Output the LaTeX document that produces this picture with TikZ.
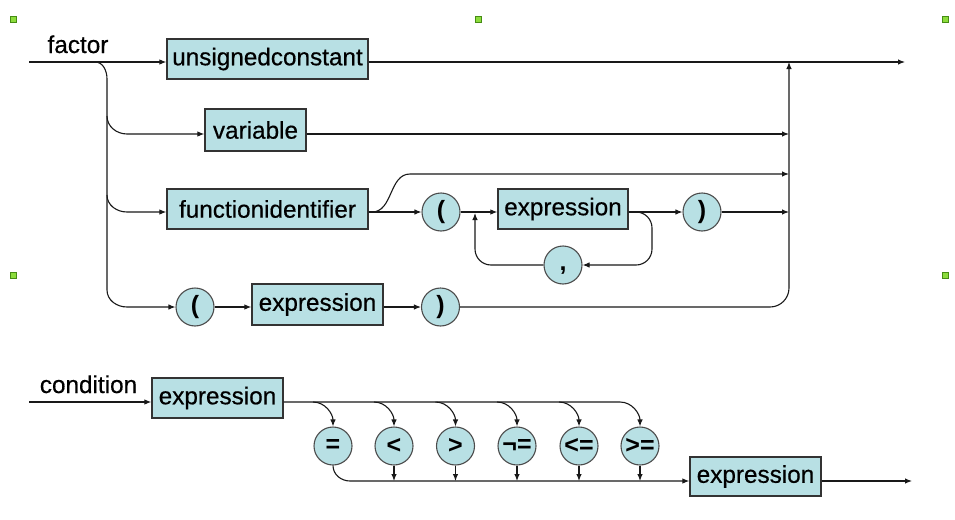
\documentclass[tikz,border=0pt]{standalone}
\usepackage{fontspec}
\setmainfont{Liberation Sans}
\newfontfamily\boxfont{Liberation Sans}[FakeBold=0.5]
\usetikzlibrary{arrows.meta}
\definecolor{boxfill}{RGB}{184,224,228}
\definecolor{handle}{RGB}{140,220,60}
\definecolor{handleedge}{RGB}{70,140,20}
\begin{document}
\begin{tikzpicture}[x=1pt,y=1pt,
  wire/.style={line width=1.1pt, draw=black!90},
  arr/.style={wire,-{Latex[length=7pt,width=5.5pt]}},
  termbox/.style={draw=black!80, line width=1.3pt, fill=boxfill, minimum height=40pt, inner sep=0pt, font=\boxfont\fontsize{24.3}{26}\selectfont},
  termcirc/.style={circle, draw=black!70, line width=1.1pt, fill=boxfill, minimum size=38pt, inner sep=0pt, font=\bfseries\fontsize{25}{26}\selectfont},
  lbl/.style={font=\boxfont\fontsize{24.3}{26}\selectfont, inner sep=0pt},
  hdl/.style={draw=handleedge, fill=handle, minimum size=6pt, inner sep=0pt, line width=0.8pt}]
\useasboundingbox (0,0) rectangle (955,-519);
% selection handles
\node[hdl] (h1) at (13,-19) {};
\node[hdl] (h2) at (478,-19) {};
\node[hdl] (h3) at (945,-19) {};
\node[hdl] (h4) at (13,-275) {};
\node[hdl] (h5) at (945,-275) {};
% line levels
\coordinate (l1) at (0,-62);
\coordinate (l2) at (0,-134);
\coordinate (l3a) at (0,-174);
\coordinate (l3) at (0,-212);
\coordinate (l4) at (0,-307);
\coordinate (lc) at (0,-402);
\coordinate (lb) at (0,-481);
\coordinate (retx) at (789,0);
% ---------- factor ----------
\node[lbl, anchor=base] (flbl) at (78,-53) {factor};
\coordinate (fin) at (29,-62);
\coordinate (fout) at (905,-62);
\node[termbox, minimum width=201pt] (uc) at (267.5,-59) {unsignedconstant};
\node[termbox, minimum width=101pt, minimum height=42pt] (var) at (255.5,-130) {variable};
\node[termbox, minimum width=201pt] (fid) at (267.5,-209) {functionidentifier};
\node[termcirc] (lp1) at (441,-212) {(};
\node[termbox, minimum width=130pt] (ex1) at (563,-209) {expression};
\node[termcirc] (rp1) at (702,-212) {)};
\node[termcirc] (comma) at (563,-265) {\rule{0pt}{15pt},};
\node[termcirc] (lp2) at (195,-307) {(};
\node[termbox, minimum width=131pt, minimum height=41pt] (ex2) at (317.5,-304.5) {expression};
\node[termcirc] (rp2) at (440.5,-307) {)};
% row 1
\draw[arr] (fin) -- (l1 -| uc.west);
\draw[arr] (l1 -| uc.east) -- (fout);
% left branch down to row 4
\draw[arr] (95,-62) to[out=0,in=90] (107,-79) -- (107,-290) to[out=-90,in=180] (127,-307) -- (lp2.west);
% row 2
\draw[arr] (107,-116) to[out=-90,in=180] (127,-134) -- (l2 -| var.west);
\draw[arr] (l2 -| var.east) -- (l2 -| retx);
% row 3
\draw[arr] (107,-195) to[out=-90,in=180] (127,-212) -- (l3 -| fid.west);
\draw[arr] (l3 -| fid.east) -- (lp1.west);
\draw[arr] (l3 -| fid.east) -- (372,-212) to[out=0,in=180] (410,-174) -- (l3a -| retx);
\draw[arr] (lp1.east) -- (l3 -| ex1.west);
\draw[arr] (l3 -| ex1.east) -- (rp1.west);
\draw[arr] (rp1.east) -- (l3 -| retx);
\draw[arr] (l3 -| ex1.east) -- (636,-212) to[out=0,in=90] (652,-228) -- (652,-249) to[out=-90,in=0] (636,-265) -- (comma.east);
\coordinate (jn) at (475,-213);
\draw[arr] (comma.west) -- (491,-265) to[out=180,in=-90] (475,-249) -- (jn);
% row 4
\draw[arr] (lp2.east) -- (l4 -| ex2.west);
\draw[arr] (l4 -| ex2.east) -- (rp2.west);
\draw[arr] (rp2.east) -- (770,-307) to[out=0,in=-90] (789,-288) -- (l1 -| retx);
% ---------- condition ----------
\node[lbl, anchor=base] (clbl) at (88.5,-393) {condition};
\node[termbox, minimum width=131pt] (cex1) at (217.5,-398) {expression};
\node[termcirc] (c1) at (333,-446) {=};
\node[termcirc] (c2) at (394,-446) {<};
\node[termcirc] (c3) at (455.5,-446) {>};
\node[termcirc] (c4) at (517,-446) {¬=};
\node[termcirc] (c5) at (579,-446) {<=};
\node[termcirc] (c6) at (640,-446) {>=};
\node[termbox, minimum width=131pt, minimum height=39pt] (ex3) at (755.5,-476.5) {expression};
\coordinate (cin) at (29,-402);
\coordinate (cout) at (912,-481);
\draw[arr] (cin) -- (lc -| cex1.west);
\draw[arr] (lc -| cex1.east) -- (620,-402) to[out=0,in=90] (c6.north);
\draw[arr] (313,-402) to[out=0,in=90] (c1.north);
\draw[arr] (374,-402) to[out=0,in=90] (c2.north);
\draw[arr] (435.5,-402) to[out=0,in=90] (c3.north);
\draw[arr] (497,-402) to[out=0,in=90] (c4.north);
\draw[arr] (559,-402) to[out=0,in=90] (c5.north);
\draw[arr] (c1.south) to[out=-90,in=180] (350,-481) -- (lb -| ex3.west);
\draw[arr] (c2.south) -- (c2.south |- lb);
\draw[arr] (c3.south) -- (c3.south |- lb);
\draw[arr] (c4.south) -- (c4.south |- lb);
\draw[arr] (c5.south) -- (c5.south |- lb);
\draw[arr] (c6.south) -- (c6.south |- lb);
\draw[arr] (lb -| ex3.east) -- (cout);
\end{tikzpicture}
\end{document}
